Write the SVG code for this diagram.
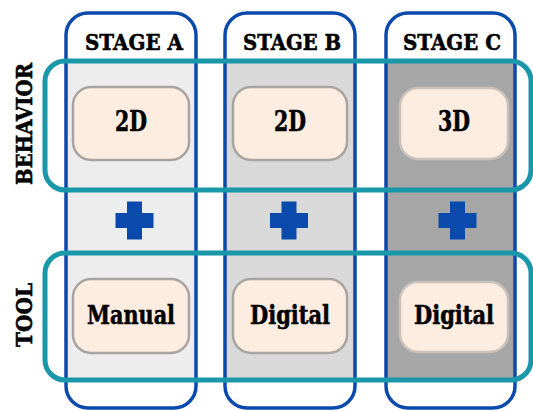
<svg xmlns="http://www.w3.org/2000/svg" width="533" height="411" viewBox="0 0 533 411">
<style>
.col{fill:none;stroke:#0b4aad;stroke-width:3.5}
.band{fill:none;stroke:#1a97a8;stroke-width:5}
.node{fill:#fdede1;stroke:#a8a4a2;stroke-width:2.5}
.t{font-family:'DejaVu Serif','Liberation Serif',serif;font-weight:bold;fill:#000;stroke:#000;stroke-width:0.6;text-anchor:middle}
.plus{fill:#0b4aad}
</style>
<defs>
<path id="plus" d="M-7.5,-19 h15 v11.5 h11.5 v15 h-11.5 v11.5 h-15 v-11.5 h-11.5 v-15 h11.5 z"/>
</defs>
<g id="fills">
<rect x="66" y="61" width="130" height="319" fill="#ededed"/>
<rect x="225" y="61" width="130" height="319" fill="#d9d9d9"/>
<rect x="386" y="61" width="129" height="319" fill="#a6a6a6"/>
</g>
<g id="stageA"><rect class="col" x="66" y="13" width="130" height="395" rx="22"/>
<text class="t" x="134" y="50" font-size="23" textLength="98" lengthAdjust="spacingAndGlyphs">STAGE A</text></g>
<g id="stageB"><rect class="col" x="225" y="13" width="130" height="395" rx="22"/>
<text class="t" x="292" y="50" font-size="23" textLength="98" lengthAdjust="spacingAndGlyphs">STAGE B</text></g>
<g id="stageC"><rect class="col" x="386" y="13" width="129" height="395" rx="22"/>
<text class="t" x="452" y="50" font-size="23" textLength="98" lengthAdjust="spacingAndGlyphs">STAGE C</text></g>
<g id="behavior"><rect class="band" x="45" y="61" width="486" height="129" rx="20"/>
<text class="t" transform="translate(32,124) rotate(-90)" font-size="23" textLength="122" lengthAdjust="spacingAndGlyphs">BEHAVIOR</text></g>
<g id="tool"><rect class="band" x="45" y="253" width="486" height="127" rx="20"/>
<text class="t" transform="translate(32,315) rotate(-90)" font-size="23" textLength="64" lengthAdjust="spacingAndGlyphs">TOOL</text></g>
<g id="a2d"><rect class="node" x="73" y="87" width="116" height="73" rx="18"/><text class="t" x="131" y="131" font-size="27" textLength="32" lengthAdjust="spacingAndGlyphs">2D</text></g>
<g id="b2d"><rect class="node" x="233" y="87" width="114" height="73" rx="18"/><text class="t" x="290" y="131" font-size="27" textLength="32" lengthAdjust="spacingAndGlyphs">2D</text></g>
<g id="c3d"><rect class="node" x="400" y="88" width="108" height="71" rx="18" style="stroke:#c9c2bc"/><text class="t" x="454" y="131" font-size="27" textLength="32" lengthAdjust="spacingAndGlyphs">3D</text></g>
<g id="aManual"><rect class="node" x="73" y="279" width="116" height="74" rx="18"/><text class="t" x="131" y="324" font-size="26" textLength="88" lengthAdjust="spacingAndGlyphs">Manual</text></g>
<g id="bDigital"><rect class="node" x="233" y="279" width="114" height="74" rx="18"/><text class="t" x="290" y="324" font-size="26" textLength="80" lengthAdjust="spacingAndGlyphs">Digital</text></g>
<g id="cDigital"><rect class="node" x="400" y="282" width="108" height="70" rx="18" style="stroke:#c9c2bc"/><text class="t" x="454" y="324" font-size="26" textLength="80" lengthAdjust="spacingAndGlyphs">Digital</text></g>
<g id="connectors">
<use href="#plus" class="plus" x="134.5" y="220.5"/>
<use href="#plus" class="plus" x="289" y="220.5"/>
<use href="#plus" class="plus" x="457.5" y="220.5"/>
</g>
</svg>
